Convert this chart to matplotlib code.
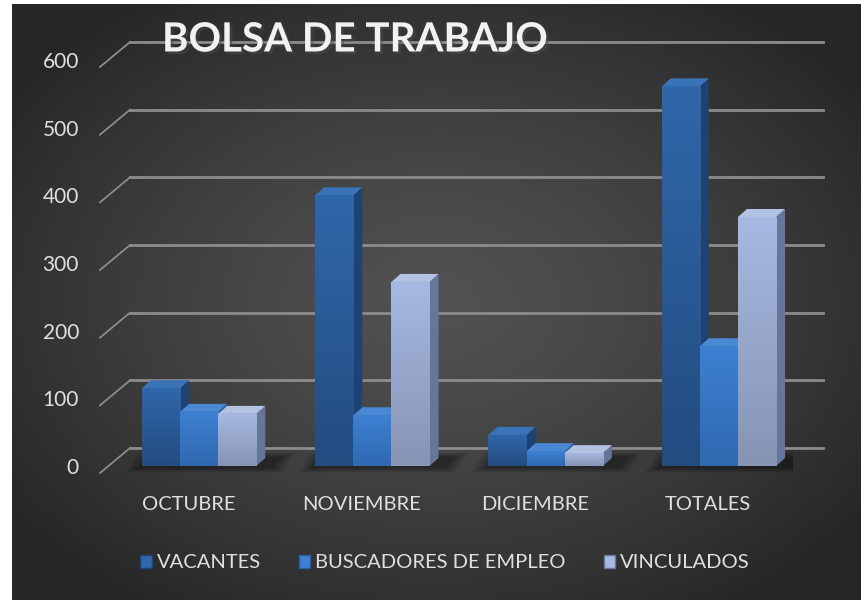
import numpy as np
import matplotlib.pyplot as plt
import matplotlib.patheffects as pe
from matplotlib.patches import Polygon, Rectangle
from matplotlib.colors import LinearSegmentedColormap
from matplotlib.transforms import offset_copy

# ── Data ─────────────────────────────────────────────────────────────────────
categories   = ["OCTUBRE", "NOVIEMBRE", "DICIEMBRE", "TOTALES"]
vacantes     = [115, 400, 46, 561]
buscadores   = [80, 75, 22, 177]
vinculados   = [77, 272, 19, 368]
series_names = ["VACANTES", "BUSCADORES DE EMPLEO", "VINCULADOS"]
y_ticks      = [0, 100, 200, 300, 400, 500, 600]
title        = "BOLSA DE TRABAJO"

series = [vacantes, buscadores, vinculados]
# (front top, front bottom, side, top) colours per series
colors = [
    ("#2f67aa", "#234c80", "#1d4273", "#3a73b8"),
    ("#3d80d2", "#2f69b0", "#2a5c9e", "#4a88d4"),
    ("#a6b9e2", "#8794b4", "#66759a", "#b3c2e2"),
]

plt.rcParams['font.family'] = ['Lato', 'DejaVu Sans']
W, H = 862, 600
fig = plt.figure(figsize=(W / 100, H / 100), dpi=100)
fig.patch.set_facecolor("white")

# ── Dark radial background ───────────────────────────────────────────────────
bg = fig.add_axes([12 / W, 0, 1 - 12 / W, 1 - 4 / H])
yy, xx = np.mgrid[0:1:300j, 0:1:430j]
r = np.clip(np.sqrt(((xx - 0.5) / 0.62) ** 2 + ((yy - 0.5) / 0.62) ** 2), 0, 1)
g = 0.32 - (0.32 - 0.15) * r ** 1.3
bg.imshow(np.dstack([g, g, g]), extent=(0, 1, 0, 1), aspect="auto")
bg.axis("off")

# ── Main axes (front plane) ──────────────────────────────────────────────────
ax = fig.add_axes([100 / W, (H - 473) / H, 693 / W, 406 / H])
ax.set_xlim(-0.5, 3.5)
ax.set_ylim(0, 600)
ax.axis("off")
ax.patch.set_alpha(0)

px_x = 693 / 4      # pixels per category
px_y = 406 / 600    # pixels per value unit
def dx(p): return p / px_x
def dy(p): return p / px_y

wall = (dx(30), dy(25))     # back wall offset
boff = (dx(8), dy(7))       # bar front face offset
bdep = (dx(9), dy(8))       # bar depth

grid_c = "#8c8c8c"
for v in y_ticks:
    ax.plot([-0.5, -0.5 + wall[0]], [v, v + wall[1]], color=grid_c, lw=1.3, clip_on=False, zorder=1)
    ax.plot([-0.5 + wall[0], 3.5 + wall[0]], [v + wall[1]] * 2, color=grid_c, lw=2, clip_on=False, zorder=1)
    ax.text(-0.5, v, str(v), ha="right", va="center", fontsize=15, color="#e0e0e0",
            transform=offset_copy(ax.transData, fig=fig, x=-21, y=5, units="dots"))

for i, cat in enumerate(categories):
    ax.text(i, 0, cat, ha="center", va="center", fontsize=14.5, color="#e0e0e0",
            transform=offset_copy(ax.transData, fig=fig, x=2, y=-32, units="dots"))

# ── 3D-looking bars ──────────────────────────────────────────────────────────
bw = 0.22
grad = np.linspace(0, 1, 100).reshape(-1, 1)
z = 3
for i in range(len(categories)):
    x0 = i - 0.304 + boff[0]
    # soft floor shadow
    for s in range(6):
        e = 2.5 * s
        shadow = Polygon([(x0 - dx(4 + e), boff[1] - dy(2 + e / 3)),
                          (x0 + 3 * bw + dx(14 + e), boff[1] - dy(2 + e / 3)),
                          (x0 + 3 * bw + dx(26 + e), boff[1] + dy(9 + e / 3)),
                          (x0 + dx(8 - e), boff[1] + dy(9 + e / 3))],
                         closed=True, facecolor="black", alpha=0.07, edgecolor="none", zorder=2)
        ax.add_patch(shadow)
    for k, vals in enumerate(series):
        v = vals[i]
        xl = x0 + k * bw
        xr = xl + bw
        yb = boff[1]
        yt = boff[1] + v
        ctop, cbot, cside, ctopface = colors[k]
        side = Polygon([(xr, yb), (xr + bdep[0], yb + bdep[1]), (xr + bdep[0], yt + bdep[1]), (xr, yt)],
                       closed=True, facecolor=cside, edgecolor="none", zorder=z)
        top = Polygon([(xl, yt), (xl + bdep[0], yt + bdep[1]), (xr + bdep[0], yt + bdep[1]), (xr, yt)],
                      closed=True, facecolor=ctopface, edgecolor="none", zorder=z)
        front = Rectangle((xl, yb), bw, v, facecolor="none", edgecolor="none", zorder=z + 1)
        ax.add_patch(side)
        ax.add_patch(top)
        ax.add_patch(front)
        cmap = LinearSegmentedColormap.from_list("g", [cbot, ctop])
        im = ax.imshow(grad, cmap=cmap, extent=(xl, xr, yb, yt), origin="lower",
                       aspect="auto", zorder=z + 1, vmin=0, vmax=1)
        im.set_clip_path(front)
        z += 2

ax.set_xlim(-0.5, 3.5)
ax.set_ylim(0, 600)

# ── Title and legend ─────────────────────────────────────────────────────────
fig.text(355 / W, 1 - 40 / H, title, ha="center", va="center", fontsize=29, fontweight="bold",
         color="#f2f2f2",
         path_effects=[pe.SimplePatchShadow(offset=(2, -2), alpha=0.5), pe.Normal()])

handles = [Rectangle((0, 0), 1, 1, facecolor=c[0], edgecolor=c[2], lw=1) for c in colors]
leg = fig.legend(handles, series_names, loc="center", bbox_to_anchor=(445 / W, 1 - 563 / H),
                 ncol=3, frameon=False, fontsize=14.5, labelcolor="#e0e0e0",
                 handlelength=0.55, handleheight=0.6, handletextpad=0.25, columnspacing=1.9)

fig.savefig("out.png", dpi=100)
